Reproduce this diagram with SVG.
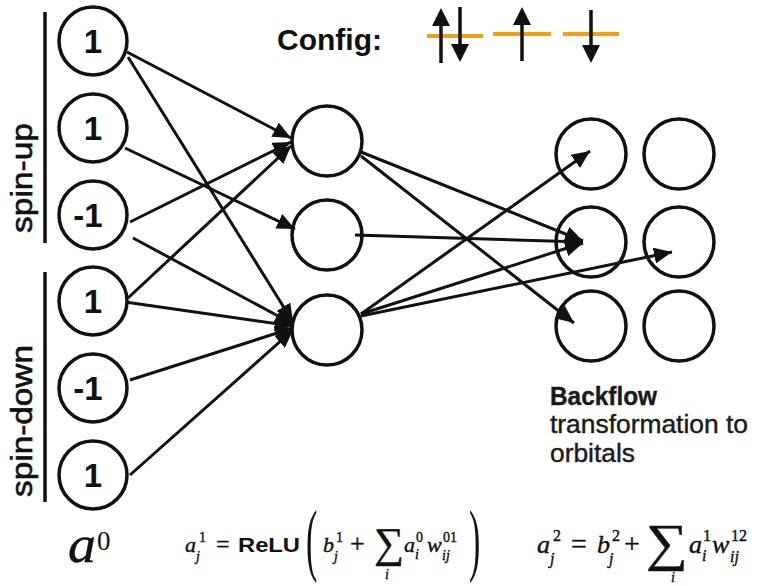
<svg xmlns="http://www.w3.org/2000/svg" width="763" height="586" viewBox="0 0 763 586">
<defs>
<marker id="ah" markerUnits="userSpaceOnUse" markerWidth="20" markerHeight="16" refX="18" refY="8" orient="auto">
<path d="M0,0 L18,8 L0,16 z" fill="#111"/>
</marker>
<style>
.n{fill:#fff;stroke:#111;stroke-width:3.5}
.e{stroke:#111;stroke-width:3;fill:none}
.num{font-family:"Liberation Sans",Arial,sans-serif;font-weight:bold;font-size:33px;fill:#111;text-anchor:middle}
.lab{font-family:"Liberation Sans",Arial,sans-serif;font-size:29px;fill:#111;stroke:#111;stroke-width:0.6}
.sp{stroke:#111;stroke-width:3.5}
.orb{stroke:#F2A00F;stroke-width:4}
.m{font-family:"Liberation Serif","Times New Roman",serif;font-style:italic;fill:#111;stroke:#111;stroke-width:0.4}
.r{font-family:"Liberation Serif","Times New Roman",serif;fill:#111;stroke:#111;stroke-width:0.4}
.p{font-family:"Liberation Serif","Times New Roman",serif;fill:#111}
.bt{font-family:"Liberation Sans",Arial,sans-serif;fill:#1a1a1a;font-size:25px;stroke:#1a1a1a;stroke-width:0.4}
</style>
</defs>
<rect width="763" height="586" fill="#fff"/>

<g id="labels">
<line x1="45" y1="12" x2="45" y2="243" class="sp"/>
<line x1="45" y1="272" x2="45" y2="502" class="sp"/>
<text class="lab" transform="translate(32,233) rotate(-90)" textLength="110" lengthAdjust="spacingAndGlyphs">spin-up</text>
<text class="lab" transform="translate(32,497) rotate(-90)" textLength="152" lengthAdjust="spacingAndGlyphs">spin-down</text>
</g>

<g id="config">
<text x="277" y="50" font-family="Liberation Sans,Arial,sans-serif" font-weight="bold" font-size="30" fill="#111">Config:</text>
<line x1="427" y1="36" x2="483" y2="36" class="orb"/>
<line x1="493" y1="34" x2="551" y2="34" class="orb"/>
<line x1="563" y1="34" x2="619" y2="34" class="orb"/>
<line x1="441" y1="63" x2="441" y2="22" class="sp"/>
<polygon points="441,8 432,26 450,26" fill="#111"/>
<line x1="460" y1="7" x2="460" y2="48" class="sp"/>
<polygon points="460,62 451,44 469,44" fill="#111"/>
<line x1="522" y1="61" x2="522" y2="21" class="sp"/>
<polygon points="522,7 513,25 531,25" fill="#111"/>
<line x1="591" y1="10" x2="591" y2="49" class="sp"/>
<polygon points="591,63 582,45 600,45" fill="#111"/>
</g>

<g id="connectors">
<line class="e" marker-end="url(#ah)" x1="127" y1="52" x2="291" y2="138"/>
<line class="e" marker-end="url(#ah)" x1="128" y1="57" x2="293" y2="322"/>
<line class="e" marker-end="url(#ah)" x1="125" y1="148" x2="295" y2="229"/>
<line class="e" marker-end="url(#ah)" x1="130" y1="222" x2="291" y2="142"/>
<line class="e" marker-end="url(#ah)" x1="133" y1="238" x2="293" y2="324"/>
<line class="e" marker-end="url(#ah)" x1="128" y1="298" x2="291" y2="146"/>
<line class="e" marker-end="url(#ah)" x1="125" y1="302" x2="293" y2="326"/>
<line class="e" marker-end="url(#ah)" x1="130" y1="380" x2="293" y2="328"/>
<line class="e" marker-end="url(#ah)" x1="130" y1="475" x2="293" y2="330"/>
<line class="e" marker-end="url(#ah)" x1="361" y1="152" x2="583" y2="241"/>
<line class="e" marker-end="url(#ah)" x1="361" y1="156" x2="574" y2="323"/>
<line class="e" marker-end="url(#ah)" x1="355" y1="235" x2="583" y2="242"/>
<line class="e" marker-end="url(#ah)" x1="361" y1="314" x2="590" y2="151"/>
<line class="e" marker-end="url(#ah)" x1="361" y1="314" x2="583" y2="243"/>
<line class="e" marker-end="url(#ah)" x1="361" y1="316" x2="672" y2="252"/>
</g>

<g id="in1"><circle class="n" cx="93" cy="41" r="34"/><text class="num" x="93" y="53">1</text></g>
<g id="in2"><circle class="n" cx="93" cy="128" r="34"/><text class="num" x="93" y="140">1</text></g>
<g id="in3"><circle class="n" cx="93" cy="215" r="34"/><text class="num" x="88" y="227">-1</text></g>
<g id="in4"><circle class="n" cx="93" cy="301" r="34"/><text class="num" x="93" y="313">1</text></g>
<g id="in5"><circle class="n" cx="93" cy="388" r="34"/><text class="num" x="88" y="400">-1</text></g>
<g id="in6"><circle class="n" cx="93" cy="475" r="34"/><text class="num" x="93" y="487">1</text></g>

<g id="h1"><circle class="n" cx="327" cy="141" r="35" style="fill:none"/></g>
<g id="h2"><circle class="n" cx="327" cy="235" r="35" style="fill:none"/></g>
<g id="h3"><circle class="n" cx="327" cy="330" r="35" style="fill:none"/></g>

<g id="o11"><circle class="n" cx="591" cy="154" r="35" style="fill:none"/></g>
<g id="o21"><circle class="n" cx="591" cy="242" r="35" style="fill:none"/></g>
<g id="o31"><circle class="n" cx="591" cy="326" r="35" style="fill:none"/></g>
<g id="o12"><circle class="n" cx="679" cy="154" r="35" style="fill:none"/></g>
<g id="o22"><circle class="n" cx="679" cy="242" r="35" style="fill:none"/></g>
<g id="o32"><circle class="n" cx="679" cy="326" r="35" style="fill:none"/></g>

<g id="backflow">
<text class="bt" x="550" y="405" font-weight="bold" textLength="107" lengthAdjust="spacingAndGlyphs">Backflow</text>
<text class="bt" x="550" y="433" textLength="198" lengthAdjust="spacingAndGlyphs">transformation to</text>
<text class="bt" x="550" y="462" textLength="85" lengthAdjust="spacingAndGlyphs">orbitals</text>
</g>

<g id="formula0">
<text class="m" x="68" y="562" font-size="52" textLength="28" lengthAdjust="spacingAndGlyphs">a</text>
<text class="p" x="97" y="550" font-size="27">0</text>
</g>

<g id="formula1">
<text class="m" x="185" y="552" font-size="22">a</text>
<text class="m" x="196" y="561" font-size="14">j</text>
<text class="r" x="199" y="542" font-size="14">1</text>
<text class="r" x="216" y="552" font-size="24">=</text>
<text x="238" y="552" font-family="Liberation Sans,Arial,sans-serif" font-weight="bold" font-size="21" fill="#111" textLength="62" lengthAdjust="spacingAndGlyphs">ReLU</text>
<text class="p" font-size="40" transform="translate(306,566) scale(0.85,2.0)">(</text>
<text class="m" x="323" y="552" font-size="22">b</text>
<text class="m" x="334" y="561" font-size="14">j</text>
<text class="r" x="336" y="542" font-size="14">1</text>
<text class="r" x="350" y="552" font-size="26">+</text>
<text class="r" x="374" y="557" font-size="42">∑</text>
<text class="m" x="385" y="579" font-size="14">i</text>
<text class="m" x="404" y="552" font-size="22">a</text>
<text class="m" x="415" y="559" font-size="14">i</text>
<text class="r" x="416" y="542" font-size="14">0</text>
<text class="m" x="427" y="552" font-size="22">w</text>
<text class="m" x="442" y="560" font-size="14">ij</text>
<text class="r" x="443" y="542" font-size="14">01</text>
<text class="p" font-size="40" transform="translate(469,566) scale(0.85,2.0)">)</text>
</g>

<g id="formula2">
<text class="m" x="537" y="553" font-size="26">a</text>
<text class="m" x="550" y="564" font-size="16">j</text>
<text class="r" x="553" y="541" font-size="16">2</text>
<text class="r" x="571" y="553" font-size="28">=</text>
<text class="m" x="597" y="553" font-size="26">b</text>
<text class="m" x="609" y="564" font-size="16">j</text>
<text class="r" x="612" y="541" font-size="16">2</text>
<text class="r" x="624" y="553" font-size="28">+</text>
<text class="r" x="646" y="560" font-size="52" textLength="42" lengthAdjust="spacingAndGlyphs">∑</text>
<text class="m" x="671" y="582" font-size="14">i</text>
<text class="m" x="689" y="553" font-size="26">a</text>
<text class="m" x="702" y="561" font-size="16">i</text>
<text class="r" x="703" y="541" font-size="16">1</text>
<text class="m" x="712" y="553" font-size="26">w</text>
<text class="m" x="730" y="562" font-size="16">ij</text>
<text class="r" x="731" y="541" font-size="16">12</text>
</g>
</svg>
